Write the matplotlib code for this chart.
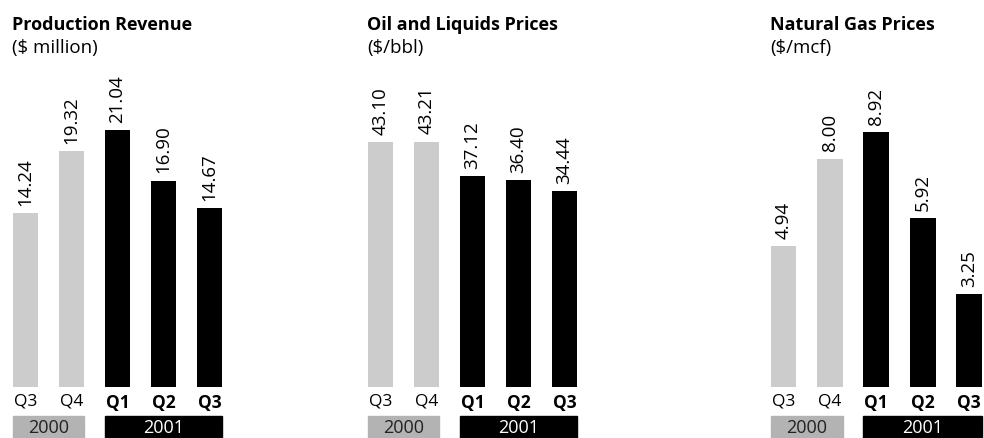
import numpy as np
import matplotlib.pyplot as plt
from matplotlib.patches import Rectangle
from matplotlib.transforms import blended_transform_factory

plt.rcParams['font.family'] = ['Open Sans', 'DejaVu Sans']

quarters = ['Q3', 'Q4', 'Q1', 'Q2', 'Q3']
years = ['2000', '2001']
titles = ['Production Revenue', 'Oil and Liquids Prices', 'Natural Gas Prices']
units = ['($ million)', '($/bbl)', '($/mcf)']
revenue = [14.24, 19.32, 21.04, 16.90, 14.67]
oil = [43.10, 43.21, 37.12, 36.40, 34.44]
gas = [4.94, 8.00, 8.92, 5.92, 3.25]
series = [revenue, oil, gas]

LIGHT = '#cccccc'
BOX_2000 = '#b3b3b3'

W, H = 984, 439
fig = plt.figure(figsize=(W / 100, H / 100), dpi=100)

# pixel layout of each panel: first bar centre, px per unit of y
lefts = [25.5, 380.5, 783.5]
steps = [46.0, 46.0, 46.4]
ppu = [12.2, 5.68, 28.55]
title_x = [12, 367, 770]
bottom_px = 388
top_px = 60

for k in range(3):
    x0 = (lefts[k] - 0.5 * steps[k]) / W
    w = 5 * steps[k] / W
    ax = fig.add_axes([x0, (H - bottom_px) / H, w, (bottom_px - top_px) / H])
    vals = series[k]
    xs = np.arange(len(vals))
    colors = [LIGHT, LIGHT, 'black', 'black', 'black']
    ax.bar(xs, vals, width=0.56, color=colors)
    ax.set_xlim(-0.5, 4.5)
    ax.set_ylim(0, (bottom_px - top_px) / ppu[k])
    for s in ax.spines.values():
        s.set_visible(False)
    ax.set_yticks([])
    ax.set_xticks(xs)
    ax.set_xticklabels(quarters, fontsize=12.5)
    for i, lab in enumerate(ax.get_xticklabels()):
        if i >= 2:
            lab.set_fontweight('bold')
    ax.tick_params(axis='x', length=0, pad=4)

    for x, v in zip(xs, vals):
        ax.annotate(f'{v:.2f}', (x, v), xytext=(0, 6), textcoords='offset points',
                    rotation=90, ha='center', va='bottom', fontsize=13.5)

    # year boxes under the quarter labels
    tr = blended_transform_factory(ax.transData, fig.transFigure)
    yb, hb = 0, 22 / H
    ax.add_patch(Rectangle((-0.28, yb), 1.56, hb, transform=tr, color=BOX_2000,
                           clip_on=False))
    ax.add_patch(Rectangle((1.72, yb), 2.56, hb, transform=tr, color='black',
                           clip_on=False))
    ax.text(0.5, yb + hb / 2, years[0], transform=tr, ha='center', va='center',
            fontsize=13, color='#222222')
    ax.text(3.0, yb + hb / 2, years[1], transform=tr, ha='center', va='center',
            fontsize=13, color='white')

    fig.text(title_x[k] / W, 1 - 30 / H, titles[k], fontsize=13, fontweight='bold',
             va='baseline', ha='left')
    fig.text(title_x[k] / W, 1 - 53 / H, units[k], fontsize=13.5,
             va='baseline', ha='left')

fig.savefig('out.png', dpi=100)
